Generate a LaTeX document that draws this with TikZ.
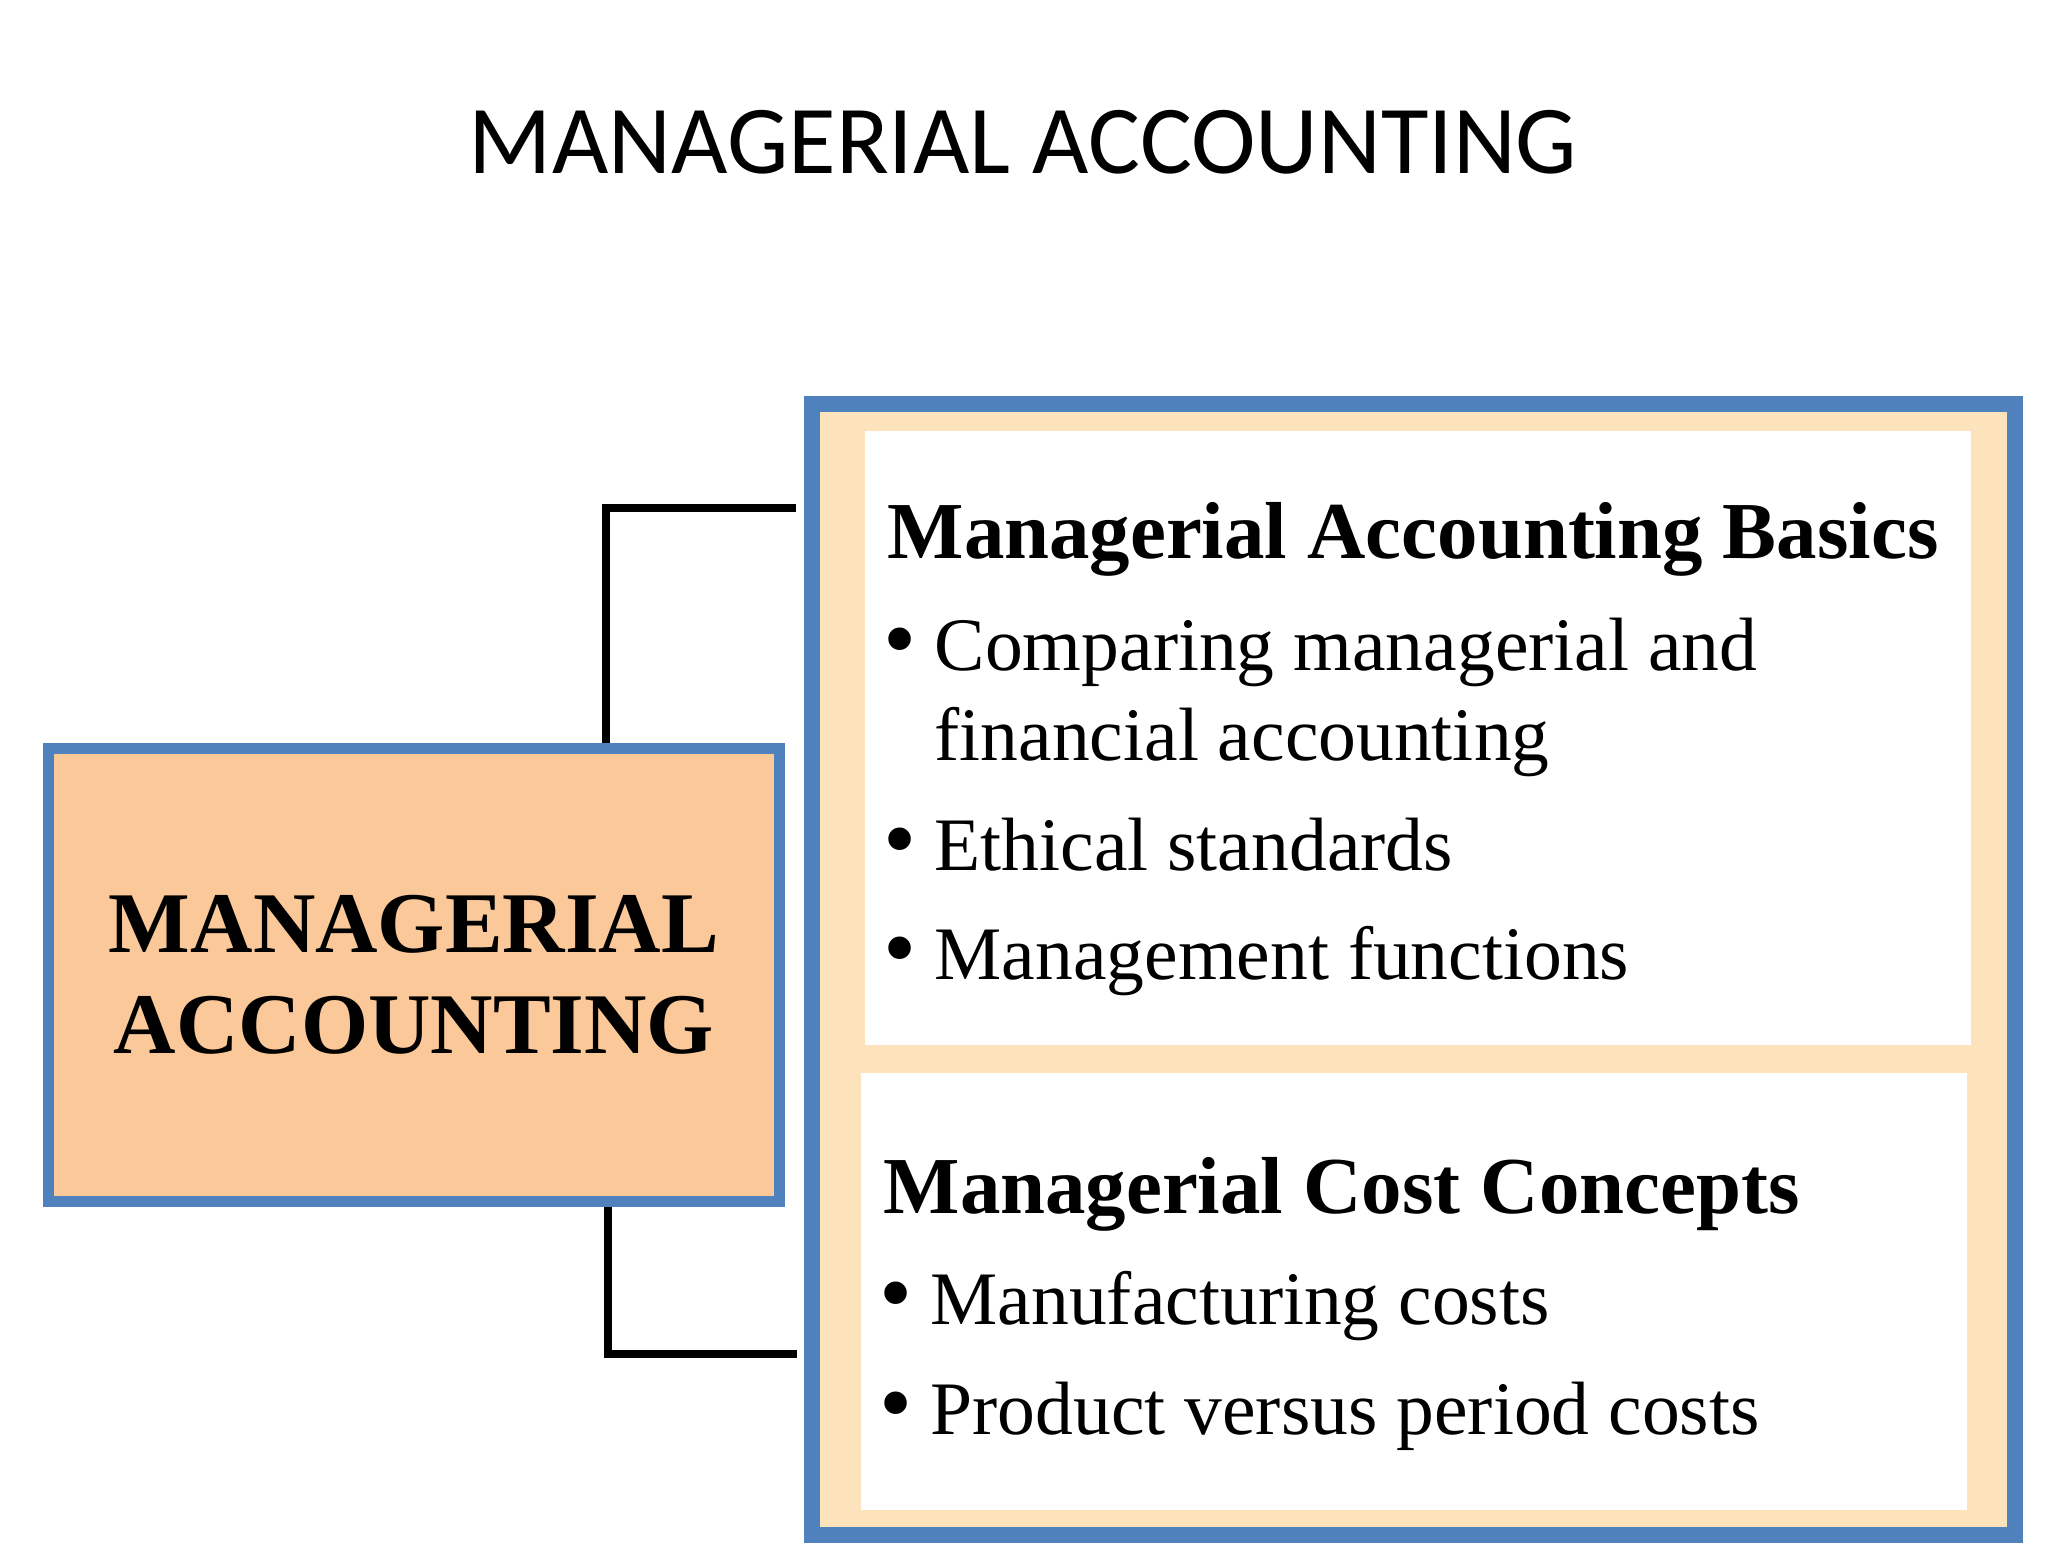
\documentclass[tikz,border=0pt]{standalone}
\usepackage{graphicx}
\usepackage{fontspec}
\setmainfont{Liberation Serif}
\newfontfamily\titrefont{Carlito}
\usetikzlibrary{positioning}
\definecolor{bordbleu}{HTML}{4F81BD}
\definecolor{peche}{HTML}{FBC999}
\definecolor{creme}{HTML}{FDE3BB}
\tikzset{
  boite/.style={draw=bordbleu, inner sep=0pt},
  lien/.style={line width=0.08cm},
  entete/.style={font=\bfseries\fontsize{23pt}{27pt}\selectfont, anchor=base west, inner sep=0pt},
  puce/.style={font=\fontsize{21.5pt}{26pt}\selectfont, anchor=base west, inner sep=0pt},
}
\newcommand{\itm}{\makebox[0.51cm][l]{\scalebox{1.25}{\textbullet}}}

\begin{document}
\begin{tikzpicture}
    \useasboundingbox (0,0) rectangle (20.48,-15.60);
    % titre
    \node[font=\titrefont\fontsize{27.7pt}{33pt}\selectfont, anchor=base] (titre) at (10.23,-1.74) {MANAGERIAL ACCOUNTING};

    % boîte de gauche
    \node[boite, line width=0.11cm, fill=peche, minimum width=7.31cm, minimum height=4.53cm, align=center, font=\bfseries\fontsize{24.6pt}{28.7pt}\selectfont] (mgr) at (4.14,-9.75) {MANAGERIAL\\ACCOUNTING};

    % cadre de droite
    \node[boite, line width=0.16cm, fill=creme, minimum width=12.03cm, minimum height=11.31cm] (cadre) at (14.135,-9.695) {};
    \node[fill=white, inner sep=0pt, minimum width=11.06cm, minimum height=6.14cm] (bases) at (14.18,-7.38) {};
    \node[fill=white, inner sep=0pt, minimum width=11.06cm, minimum height=4.37cm] (couts) at (14.14,-12.915) {};

    % textes du haut
    \node[entete] (t1) at (8.87,-5.59) {Managerial Accounting Basics};
    \node[puce] (b1) at (8.83,-6.71) {\itm Comparing managerial and};
    \node[puce] (b1s) at (9.34,-7.61) {financial accounting};
    \node[puce] (b2) at (8.83,-8.71) {\itm Ethical standards};
    \node[puce] (b3) at (8.83,-9.80) {\itm Management functions};

    % textes du bas
    \node[entete] (t2) at (8.83,-12.14) {Managerial Cost Concepts};
    \node[puce] (c1) at (8.79,-13.25) {\itm Manufacturing costs};
    \node[puce] (c2) at (8.79,-14.35) {\itm Product versus period costs};

    % liens
    \coordinate (x1) at (6.055,0);
    \coordinate (x2) at (6.075,0);
    \coordinate (h1) at (7.96,-5.08);
    \coordinate (h2) at (7.97,-13.54);
    \draw[lien] (mgr.north -| x1) |- (h1);
    \draw[lien] (mgr.south -| x2) |- (h2);
\end{tikzpicture}
\end{document}
